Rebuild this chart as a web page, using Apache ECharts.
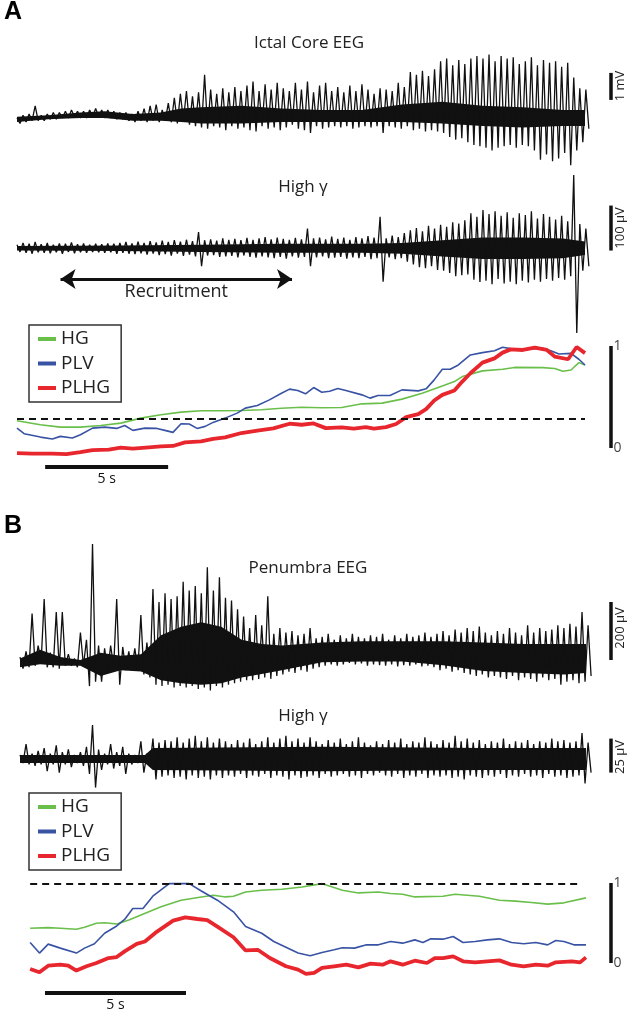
<!DOCTYPE html>
<html>
<head>
<meta charset="utf-8">
<script src="https://cdn.jsdelivr.net/npm/echarts@6/dist/echarts.min.js"></script>
<style>
  html, body { margin: 0; padding: 0; background: #fff; }
  #main { width: 633px; height: 1020px; }
</style>
</head>
<body>
<div id="main"></div>
<script>
// ---- panel A: ictal core ----
// EEG envelope per column (mV), one column every 0.246 s
const dtA = 0.246;
const eegATop = [0.0,0.1,0.15,0.45,0.1,0.15,0.2,0.2,0.25,0.3, 0.25,0.25,0.3,0.35,0.3,0.3,0.25,0.2,0.2,0.15,
  0.25,0.35,0.45,0.5,0.3,0.55,0.75,0.9,1.0,0.8, 0.95,1.6,1.05,0.9,1.1,0.95,1.15,1.0,1.2,1.35,
  1.0,1.25,1.05,1.3,1.1,1.0,1.3,1.05,1.35,0.95, 1.2,1.3,1.0,1.15,0.95,1.2,1.0,1.25,1.05,0.9,
  1.1,1.05,1.0,1.3,1.15,1.7,1.6,1.75,1.55,1.8, 2.1,2.2,1.95,2.15,2.0,2.2,2.3,2.2,2.35,2.1,
  2.3,2.2,2.25,2.0,2.1,2.25,1.95,2.15,2.05,2.1, 1.9,2.05,1.5,1.1,1.05];
const eegABot = [-0.2,-0.15,-0.1,-0.1,-0.1,-0.05,-0.05,0.0,0.0,0.05, 0.0,0.0,0.05,0.05,0.0,0.0,-0.05,-0.05,-0.1,-0.15,
  -0.1,-0.15,-0.1,-0.15,-0.1,-0.15,-0.2,-0.1,-0.25,-0.3, -0.35,-0.4,-0.3,-0.35,-0.45,-0.3,-0.4,-0.35,-0.45,-0.5,
  -0.3,-0.4,-0.35,-0.45,-0.35,-0.25,-0.4,-0.45,-0.55,-0.3, -0.4,-0.35,-0.3,-0.35,-0.3,-0.4,-0.35,-0.3,-0.35,-0.3,
  -0.55,-0.3,-0.35,-0.4,-0.3,-0.45,-0.4,-0.5,-0.45,-0.5, -0.55,-0.7,-0.8,-0.75,-0.9,-1.0,-1.05,-1.1,-1.2,-1.1,
  -1.05,-1.0,-1.1,-1.0,-1.05,-1.2,-1.55,-1.35,-1.6,-1.5, -1.3,-1.75,-1.2,-0.9,-0.4];
// solid dark core of the EEG trace [time s, top mV, bottom mV]
const eegACore = [[0,0.05,-0.15],[1.27,0.1,-0.05],[2.58,0.2,0.0],[3.56,0.25,0.0],[4.71,0.15,-0.1],[5.85,0.2,-0.1],
  [6.67,0.35,-0.15],[7.48,0.4,-0.2],[9.12,0.45,-0.2],[10.75,0.35,-0.15],[12.39,0.3,-0.15],[14.02,0.3,-0.15],
  [15.65,0.5,-0.15],[17.29,0.6,-0.2],[18.92,0.45,-0.3],[20.56,0.4,-0.35],[22.19,0.3,-0.3],[23.09,0.3,-0.3]];
// high gamma envelope (uV)
const gamATop = [8,12,10,14,9,12,8,11,10,13, 9,11,8,10,9,11,10,12,14,11, 15,12,16,13,17,14,18,15,19,16,
  36,18,20,17,22,19,21,18,23,19, 22,25,20,24,21,19,23,20,44,22, 24,20,26,21,24,19,25,22,27,24,
  70,22,28,25,34,40,45,38,50,44, 52,48,58,55,62,78,70,85,76,82, 72,80,68,78,74,82,66,76,70,64,
  72,60,163,54,44];
const gamABot = [-8,-10,-12,-9,-10,-11,-9,-12,-8,-11, -9,-10,-8,-9,-10,-9,-12,-10,-12,-13, -11,-14,-12,-15,-13,-16,-12,-17,-14,-18,
  -40,-16,-15,-19,-18,-17,-20,-16,-19,-21, -18,-20,-22,-19,-23,-18,-21,-19,-40,-20, -18,-22,-21,-19,-23,-20,-22,-19,-24,-22,
  -74,-20,-24,-22,-30,-36,-42,-44,-40,-48, -50,-55,-62,-60,-58,-70,-75,-72,-80,-68, -78,-74,-80,-72,-76,-70,-74,-68,-72,-66,
  -70,-62,-188,-50,-40];
const gamACore = [[0,5,-5],[4.22,6,-6],[7.48,8,-8],[10.75,10,-10],[14.02,10,-10],[15.65,12,-12],[17.29,18,-18],
  [18.92,24,-24],[20.56,24,-24],[22.19,22,-22],[23.09,15,-15]];
// normalised measures [time s, value]
const hgA = [[0,0.267],[0.95,0.228],[1.76,0.205],[2.58,0.205],[3.40,0.221],[4.22,0.244],[5.03,0.293],[5.85,0.326],
  [6.67,0.352],[7.48,0.365],[8.30,0.365],[9.12,0.368],[9.93,0.375],[10.75,0.39],[11.57,0.40],[12.39,0.394],[13.2,0.397],
  [14.02,0.433],[14.84,0.44],[15.65,0.479],[16.47,0.537],[17.29,0.609],[17.78,0.651],[18.1,0.70],[18.92,0.756],
  [19.74,0.772],[20.23,0.79],[21.37,0.788],[21.86,0.78],[22.19,0.752],[22.52,0.765],[22.84,0.837],[23.09,0.814]];
const plvA = [[0,0.195],[0.29,0.14],[0.95,0.107],[1.44,0.088],[1.76,0.114],[2.25,0.098],[2.58,0.13],[3.07,0.195],
  [3.56,0.205],[4.05,0.192],[4.38,0.221],[4.71,0.173],[5.2,0.195],[5.69,0.192],[6.01,0.173],[6.34,0.153],[6.67,0.238],
  [7.0,0.235],[7.32,0.192],[7.65,0.212],[7.97,0.251],[8.46,0.293],[8.95,0.342],[9.28,0.391],[9.77,0.417],[10.26,0.472],
  [10.75,0.537],[11.08,0.577],[11.41,0.563],[11.73,0.531],[12.06,0.593],[12.39,0.547],[12.71,0.557],[13.04,0.583],
  [13.37,0.563],[14.02,0.521],[14.35,0.489],[14.67,0.515],[15.16,0.515],[15.65,0.570],[16.31,0.560],[16.63,0.58],
  [16.96,0.668],[17.29,0.772],[17.61,0.772],[17.94,0.814],[18.43,0.912],[18.92,0.935],[19.41,0.954],[19.74,0.987],
  [20.07,0.974],[20.56,0.971],[21.37,0.977],[21.70,0.954],[22.03,0.922],[22.52,0.928],[22.84,0.87],[23.09,0.814]];
const plhgA = [[0,-0.05],[0.62,-0.055],[1.44,-0.055],[2.01,-0.06],[2.58,-0.04],[3.07,-0.02],[3.73,-0.016],[4.22,0.003],
  [4.71,-0.007],[5.36,0.007],[5.85,0.016],[6.34,0.02],[6.83,0.055],[7.48,0.065],[7.97,0.09],[8.46,0.104],[9.12,0.147],
  [9.77,0.17],[10.42,0.192],[11.08,0.238],[11.57,0.228],[12.06,0.241],[12.55,0.195],[13.2,0.202],[13.69,0.189],
  [14.18,0.205],[14.51,0.189],[15.0,0.205],[15.41,0.235],[15.82,0.303],[16.31,0.332],[16.63,0.381],[16.96,0.466],
  [17.29,0.521],[17.78,0.563],[18.1,0.651],[18.43,0.733],[18.92,0.837],[19.41,0.879],[19.74,0.935],[20.07,0.967],
  [20.56,0.961],[21.05,0.984],[21.54,0.961],[21.86,0.896],[22.4,0.87],[22.75,0.99],[23.09,0.93]];
const thresholdA = 0.29;

// ---- panel B: penumbra ----
const dtB = 0.2143;
const eegBTop = [10,30,160,50,210,25,165,165,20,5, 95,70,400,50,40,50,210,45,30,40,
  155,60,245,200,230,210,220,270,240,255, 230,320,240,285,215,205,175,150,110,155,
  120,220,90,110,95,100,85,90,110,75, 80,90,70,85,75,90,80,75,85,80,
  90,70,85,75,90,80,85,95,80,90, 100,85,105,95,110,100,115,95,85,100,
  90,110,95,85,120,95,110,100,105,120, 110,125,115,165,120];
const eegBBot = [-30,-25,-20,-5,-25,-25,-30,-20,-20,-25, -20,-90,-75,-75,-40,-25,-85,-35,-30,-35,
  -50,-60,-85,-90,-85,-95,-90,-95,-90,-100, -95,-105,-90,-95,-85,-80,-75,-70,-70,-65,
  -60,-65,-55,-50,-40,-45,-35,-40,-30,-25, -20,-15,-20,-15,-10,-15,-12,-20,-15,-18,
  -20,-15,-22,-18,-20,-15,-22,-20,-25,-35, -30,-40,-35,-45,-50,-55,-50,-60,-55,-60,
  -65,-55,-70,-60,-65,-75,-60,-70,-65,-85, -75,-70,-80,-75,-55];
const eegBCore = [[0,5,-25],[0.71,35,-15],[1.43,10,-20],[2.14,0,-20],[2.86,25,-55],[3.57,15,-35],[4.29,20,-40],
  [5.0,85,-70],[5.71,115,-80],[6.43,130,-85],[7.14,115,-80],[7.86,70,-60],[8.57,55,-48],[9.29,50,-35],
  [10.71,60,-8],[12.14,65,-5],[13.57,65,-5],[15.0,65,-18],[16.43,60,-38],[17.86,55,-45],[19.29,55,-50],[20.07,55,-45]];
const gamBTop = [3,11,4,6,8,4,10,5,7,3, 5,9,25,7,4,11,5,9,4,3, 13,4,15,12,14,13,16,12,15,17,
  13,16,12,15,13,11,14,12,15,11, 13,16,12,15,17,13,15,12,16,13, 11,14,12,15,11,13,16,12,10,13,
  11,14,12,15,11,13,12,16,13,11, 14,12,17,13,15,12,14,11,13,12, 15,11,13,12,14,11,13,12,15,13,
  14,12,13,19,12];
const gamBBot = [-3,-4,-5,-4,-9,-4,-10,-4,-6,-3, -5,-11,-21,-8,-4,-7,-5,-11,-4,-3, -10,-5,-15,-13,-12,-14,-13,-15,-12,-14,
  -13,-15,-12,-14,-12,-13,-11,-14,-12,-13, -11,-14,-12,-13,-15,-12,-14,-13,-12,-14, -11,-13,-12,-11,-13,-12,-14,-11,-12,-10,
  -12,-13,-11,-14,-12,-13,-11,-14,-12,-13, -12,-14,-13,-15,-12,-13,-14,-12,-13,-11, -14,-12,-13,-11,-13,-12,-14,-11,-13,-12,
  -14,-13,-12,-18,-10];
const gamBCore = [[0,3,-3],[4.43,3,-3],[4.71,8,-8],[10.71,9,-9],[16.43,8,-8],[20.07,8,-8]];
const hgB = [[0.36,0.434],[1.0,0.442],[1.43,0.434],[2.0,0.421],[2.29,0.446],[2.71,0.496],[3.0,0.504],[3.43,0.488],
  [3.86,0.537],[4.29,0.599],[5.0,0.702],[5.71,0.785],[6.43,0.826],[6.86,0.847],[7.29,0.826],[7.57,0.835],[8.0,0.888],
  [8.57,0.909],[9.29,0.921],[10.0,0.95],[10.71,0.992],[11.0,0.959],[11.43,0.909],[12.0,0.876],[12.71,0.888],[13.14,0.868],
  [13.57,0.86],[14.0,0.826],[15.0,0.835],[15.43,0.86],[16.29,0.835],[17.0,0.785],[17.57,0.773],[18.14,0.756],
  [18.71,0.736],[19.29,0.752],[20.07,0.814]];
const plvB = [[0.36,0.256],[0.69,0.124],[1.0,0.236],[1.43,0.186],[2.0,0.124],[2.29,0.186],[2.64,0.24],[3.0,0.372],
  [3.43,0.463],[3.71,0.545],[4.0,0.682],[4.36,0.682],[4.71,0.835],[5.29,0.992],[6.0,0.992],[6.43,0.90],[7.0,0.785],
  [7.57,0.64],[8.0,0.455],[8.57,0.372],[9.0,0.269],[9.43,0.198],[9.86,0.124],[10.29,0.091],[10.71,0.132],[11.14,0.165],
  [11.43,0.19],[11.86,0.186],[12.29,0.227],[12.71,0.227],[13.14,0.269],[13.57,0.248],[14.0,0.289],[14.29,0.256],
  [14.57,0.302],[15.0,0.298],[15.36,0.331],[15.71,0.256],[16.14,0.269],[16.57,0.289],[17.0,0.302],[17.43,0.256],
  [17.86,0.24],[18.29,0.256],[18.71,0.227],[19.0,0.281],[19.29,0.269],[19.64,0.227],[20.07,0.227]];
const plhgB = [[0.36,-0.074],[0.69,-0.116],[1.0,-0.033],[1.43,-0.021],[1.71,-0.033],[2.0,-0.095],[2.36,-0.041],[2.71,0],
  [3.14,0.062],[3.43,0.074],[3.71,0.145],[4.14,0.24],[4.43,0.269],[4.86,0.393],[5.43,0.529],[5.86,0.57],[6.29,0.55],
  [6.64,0.537],[7.0,0.455],[7.57,0.322],[8.0,0.157],[8.43,0.165],[8.86,0.062],[9.43,-0.041],[9.86,-0.083],[10.14,-0.136],
  [10.43,-0.124],[10.71,-0.062],[11.14,-0.041],[11.57,-0.021],[12.0,-0.054],[12.43,-0.008],[12.86,-0.021],[13.14,0.021],
  [13.57,-0.021],[14.0,0.029],[14.43,0],[14.71,0.062],[15.0,0.062],[15.36,0.083],[15.71,0.021],[16.14,0.008],[17.0,0.033],
  [17.43,-0.021],[17.86,-0.041],[18.29,-0.021],[18.71,-0.033],[19.0,0.008],[19.57,0.021],[19.86,0.008],[20.07,0.07]];
const thresholdB = 0.99;

const GREEN = '#6abf4b', BLUE = '#3953a4', RED = '#e8262d', INK = '#111';
const FONT = "'Open Sans', 'Noto Sans', sans-serif";

// dense trace drawn as a swing between column top and bottom
function zigzag(top, bot, dt) {
  const pts = [];
  for (let i = 0; i < top.length; i++) {
    pts.push([i * dt, top[i]]);
    pts.push([i * dt + dt / 2, bot[i]]);
  }
  return pts;
}

// filled dark core band: one polygon, corners mapped through the axes
function coreBand(core, xi) {
  return {
    type: 'custom', xAxisIndex: xi, yAxisIndex: xi, silent: true, z: 2, clip: true,
    data: core, encode: { x: 0, y: [1, 2] },
    renderItem: function (params, api) {
      if (params.dataIndex !== 0) return null;
      const upper = core.map(p => api.coord([p[0], p[1]]));
      const lower = core.slice().reverse().map(p => api.coord([p[0], p[2]]));
      return { type: 'polygon', shape: { points: upper.concat(lower) }, style: { fill: INK } };
    }
  };
}

function bar(x, y0, y1, w) {
  return {
    symbol: 'none', silent: true, label: { show: false },
    lineStyle: { color: INK, width: w || 3.5, type: 'solid' },
    data: [[{ coord: [x, y0] }, { coord: [x, y1] }]]
  };
}

function trace(name, data, xi, extra) {
  return Object.assign({
    name: name, type: 'line', data: data, xAxisIndex: xi, yAxisIndex: xi,
    symbol: 'none', lineStyle: { color: INK, width: 1.3 }, silent: true, z: 3
  }, extra || {});
}

function measure(name, data, xi, color, width, extra) {
  return Object.assign({
    name: name, type: 'line', data: data, xAxisIndex: xi, yAxisIndex: xi,
    symbol: 'none', color: color, lineStyle: { color: color, width: width }, z: width > 2 ? 4 : 3
  }, extra || {});
}

function scaleLabels(x, xi) {
  return {
    type: 'scatter', xAxisIndex: xi, yAxisIndex: xi, symbolSize: 0, silent: true,
    data: [[x, 1], [x, 0]],
    label: { show: true, position: 'right', distance: 3, color: INK, fontSize: 14, fontFamily: FONT,
      formatter: p => String(p.value[1]) }
  };
}

const chart = echarts.init(document.getElementById('main'), null, { renderer: 'canvas' });

const xA = { type: 'value', min: 0, max: 24.5, show: false };
const xB = { type: 'value', min: 0, max: 21.5, show: false };
const barA = 24.13, barB = 20.94;

const legendStyle = {
  data: ['HG', 'PLV', 'PLHG'], orient: 'vertical', left: 29, icon: 'rect',
  itemWidth: 18, itemHeight: 4, itemGap: 4.5, padding: [4, 11, 4, 9],
  borderColor: '#333', borderWidth: 1.5, selectedMode: false,
  textStyle: { fontSize: 19, lineHeight: 20, color: '#222', fontFamily: FONT }
};

chart.setOption({
  animation: false,
  backgroundColor: '#fff',
  grid: [
    { left: 17, width: 602.7, top: 47.8, height: 124.2 },
    { left: 17, width: 602.7, top: 167.3, height: 171 },
    { left: 17, width: 602.7, top: 340.9, height: 137.7 },
    { left: 20, width: 606.3, top: 538.2, height: 158.05 },
    { left: 20, width: 606.3, top: 720.9, height: 76.2 },
    { left: 20, width: 606.3, top: 875, height: 128 }
  ],
  xAxis: [
    Object.assign({ gridIndex: 0 }, xA), Object.assign({ gridIndex: 1 }, xA), Object.assign({ gridIndex: 2 }, xA),
    Object.assign({ gridIndex: 3 }, xB), Object.assign({ gridIndex: 4 }, xB), Object.assign({ gridIndex: 5 }, xB)
  ],
  yAxis: [
    { gridIndex: 0, type: 'value', min: -2, max: 2.6, show: false },
    { gridIndex: 1, type: 'value', min: -200, max: 180, show: false },
    { gridIndex: 2, type: 'value', min: -0.3, max: 1.05, show: false },
    { gridIndex: 3, type: 'value', min: -125, max: 420, show: false },
    { gridIndex: 4, type: 'value', min: -28, max: 28, show: false },
    { gridIndex: 5, type: 'value', min: -0.5, max: 1.1, show: false }
  ],
  legend: [
    Object.assign({ top: 325 }, legendStyle),
    Object.assign({ top: 793 }, legendStyle)
  ],
  series: [
    coreBand(eegACore, 0),
    trace('eegA', zigzag(eegATop, eegABot, dtA), 0, { markLine: bar(barA, 0.67, 1.67) }),
    coreBand(gamACore, 1),
    trace('gamA', zigzag(gamATop, gamABot, dtA), 1, {
      markLine: {
        symbol: 'none', silent: true,
        data: [
          [{ coord: [barA, -5] }, { coord: [barA, 95] }],
          [{ coord: [1.77, -68], symbol: 'arrow', symbolSize: 15,
             lineStyle: { width: 3 },
             label: { show: true, formatter: 'Recruitment', position: 'insideMiddleBottom', distance: 4,
               fontSize: 18, color: '#222', fontFamily: FONT } },
           { coord: [11.18, -68], symbol: 'arrow', symbolSize: 15 }]
        ],
        label: { show: false },
        lineStyle: { color: INK, width: 3.5, type: 'solid' }
      }
    }),
    measure('HG', hgA, 2, GREEN, 1.6, {
      markLine: {
        symbol: 'none', silent: true,
        data: [
          [{ coord: [0, thresholdA] }, { coord: [23.09, thresholdA] }],
          [{ coord: [barA, 0], lineStyle: { type: 'solid', width: 3.5 } }, { coord: [barA, 1] }],
          [{ coord: [1.144, -0.183], lineStyle: { type: 'solid', width: 4 },
             label: { show: true, formatter: '5 s', position: 'insideMiddleBottom', distance: 5,
               fontSize: 14, color: INK, fontFamily: FONT } },
           { coord: [6.144, -0.183] }]
        ],
        label: { show: false },
        lineStyle: { color: INK, width: 2, type: [7, 5] }
      }
    }),
    measure('PLV', plvA, 2, BLUE, 1.6),
    measure('PLHG', plhgA, 2, RED, 3.8),
    scaleLabels(barA, 2),

    coreBand(eegBCore, 3),
    trace('eegB', zigzag(eegBTop, eegBBot, dtB), 3, { markLine: bar(barB, 0, 200) }),
    coreBand(gamBCore, 4),
    trace('gamB', zigzag(gamBTop, gamBBot, dtB), 4, { markLine: bar(barB, -10, 15) }),
    measure('HG', hgB, 5, GREEN, 1.6, {
      markLine: {
        symbol: 'none', silent: true,
        data: [
          [{ coord: [0.36, thresholdB] }, { coord: [19.93, thresholdB] }],
          [{ coord: [barB, 0], lineStyle: { type: 'solid', width: 3.5 } }, { coord: [barB, 1] }],
          [{ coord: [0.886, -0.375], lineStyle: { type: 'solid', width: 4 },
             label: { show: true, formatter: '5 s', position: 'insideMiddleBottom', distance: 5,
               fontSize: 14, color: INK, fontFamily: FONT } },
           { coord: [5.886, -0.375] }]
        ],
        label: { show: false },
        lineStyle: { color: INK, width: 2, type: [7, 5] }
      }
    }),
    measure('PLV', plvB, 5, BLUE, 1.6),
    measure('PLHG', plhgB, 5, RED, 3.8),
    scaleLabels(barB, 5)
  ],
  graphic: [
    { type: 'text', left: 4, top: 0, style: { text: 'A', font: "bold 25px 'Liberation Sans', Arial", fill: '#000' } },
    { type: 'text', left: 4, top: 514, style: { text: 'B', font: "bold 25px 'Liberation Sans', Arial", fill: '#000' } },
    { type: 'text', x: 309, y: 43, style: { text: 'Ictal Core EEG', font: "17px " + FONT, fill: '#222', align: 'center', verticalAlign: 'middle' } },
    { type: 'text', x: 303, y: 187, style: { text: 'High \u03b3', font: "17px " + FONT, fill: '#222', align: 'center', verticalAlign: 'middle' } },
    { type: 'text', x: 308, y: 568, style: { text: 'Penumbra EEG', font: "17px " + FONT, fill: '#222', align: 'center', verticalAlign: 'middle' } },
    { type: 'text', x: 303, y: 716, style: { text: 'High \u03b3', font: "17px " + FONT, fill: '#222', align: 'center', verticalAlign: 'middle' } },
    { type: 'text', x: 620, y: 86, rotation: Math.PI / 2, style: { text: '1 mV', font: "13px " + FONT, fill: '#222', align: 'center', verticalAlign: 'middle' } },
    { type: 'text', x: 620, y: 228, rotation: Math.PI / 2, style: { text: '100 \u00b5V', font: "13px " + FONT, fill: '#222', align: 'center', verticalAlign: 'middle' } },
    { type: 'text', x: 620, y: 628, rotation: Math.PI / 2, style: { text: '200 \u00b5V', font: "13px " + FONT, fill: '#222', align: 'center', verticalAlign: 'middle' } },
    { type: 'text', x: 620, y: 757, rotation: Math.PI / 2, style: { text: '25 \u00b5V', font: "13px " + FONT, fill: '#222', align: 'center', verticalAlign: 'middle' } }
  ]
});
</script>
</body>
</html>
